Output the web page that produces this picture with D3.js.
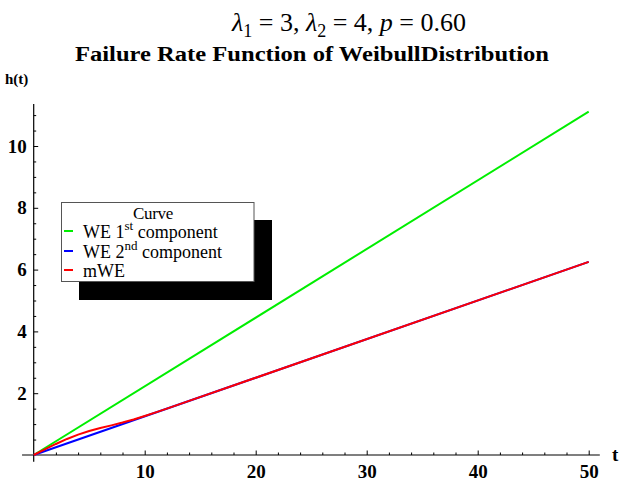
<!DOCTYPE html>
<html>
<head>
<meta charset="utf-8">
<script src="https://cdn.jsdelivr.net/npm/d3@7/dist/d3.min.js"></script>
<style>
  html, body { margin: 0; padding: 0; background: #fff; }
  svg { display: block; }
  text { font-family: "Liberation Serif", "Times New Roman", serif; }
</style>
</head>
<body>
<svg id="chart" width="624" height="483"></svg>
<script>
// Hazard curves h(t) sampled at time points t
const tLine = [0, 50];
const we1 = [0, 11.11];          // WE 1st component
const we2 = [0, 6.25];           // WE 2nd component
const tMix = [0, 1, 2, 3, 4, 5, 6, 7, 8, 9, 10, 11, 12, 14, 50];
const mwe = [0, 0.182, 0.357, 0.519, 0.659, 0.775, 0.871, 0.958, 1.049, 1.150, 1.261, 1.380, 1.502, 1.750, 6.25];

const xMajor = [10, 20, 30, 40, 50];
const yMajor = [2, 4, 6, 8, 10];
const seriesNames = ["WE 1st component", "WE 2nd component", "mWE"];
const seriesColors = ["#00ee00", "#0000ff", "#ff0000"];

const svg = d3.select("#chart");
const serif = '"Liberation Serif", "Times New Roman", serif';

const x = d3.scaleLinear().domain([0, 50]).range([33.7, 588.7]);
const y = d3.scaleLinear().domain([0, 10]).range([455, 146]);

// Titles
const t1 = svg.append("text")
  .attr("x", 349).attr("y", 31)
  .attr("text-anchor", "middle")
  .style("font-family", serif)
  .style("font-size", "26px");
t1.append("tspan").style("font-style", "italic").text("λ");
t1.append("tspan").attr("dy", 6).style("font-size", "18px").text("1");
t1.append("tspan").attr("dy", -6).text(" = 3, ");
t1.append("tspan").style("font-style", "italic").text("λ");
t1.append("tspan").attr("dy", 6).style("font-size", "18px").text("2");
t1.append("tspan").attr("dy", -6).text(" = 4, ");
t1.append("tspan").style("font-style", "italic").text("p");
t1.append("tspan").text(" = 0.60");

svg.append("text")
  .attr("x", 312).attr("y", 61)
  .attr("text-anchor", "middle")
  .style("font-family", serif)
  .style("font-size", "20px").style("font-weight", "bold")
  .attr("textLength", 474).attr("lengthAdjust", "spacingAndGlyphs")
  .text("Failure Rate Function of WeibullDistribution");

// Axis labels
svg.append("text").attr("x", 5).attr("y", 84)
  .style("font-family", serif)
  .style("font-size", "15px").style("font-weight", "bold").text("h(t)");
svg.append("text").attr("x", 612).attr("y", 461)
  .style("font-family", serif)
  .style("font-size", "19px").style("font-weight", "bold").text("t");

// Axis lines (extend slightly past the data range)
svg.append("line")
  .attr("x1", x(-1.05)).attr("x2", x(51.0))
  .attr("y1", y(0)).attr("y2", y(0))
  .attr("stroke", "#000").attr("stroke-width", 1.2);
svg.append("line")
  .attr("x1", x(0)).attr("x2", x(0))
  .attr("y1", y(-0.22)).attr("y2", y(11.36))
  .attr("stroke", "#000").attr("stroke-width", 1.2);

// X ticks
const xMinor = d3.range(2, 51, 2).filter(v => v % 10 !== 0);
const gxMinor = svg.append("g").attr("transform", `translate(0,${y(0)})`)
  .call(d3.axisBottom(x).tickValues(xMinor).tickSize(-2.5).tickFormat(""));
const gx = svg.append("g").attr("transform", `translate(0,${y(0)})`)
  .call(d3.axisBottom(x).tickValues(xMajor).tickSize(-4.5).tickPadding(10).tickFormat(d3.format("d")));

// Y ticks
const yMinor = d3.range(0.5, 11.01, 0.5).filter(v => v % 2 !== 0);
const gyMinor = svg.append("g").attr("transform", `translate(${x(0)},0)`)
  .call(d3.axisLeft(y).tickValues(yMinor).tickSize(-2.5).tickFormat(""));
const gy = svg.append("g").attr("transform", `translate(${x(0)},0)`)
  .call(d3.axisLeft(y).tickValues(yMajor).tickSize(-4.5).tickPadding(7).tickFormat(d3.format("d")));

[gx, gy, gxMinor, gyMinor].forEach(g => {
  g.attr("font-family", serif);
  g.select(".domain").remove();
  g.selectAll(".tick line").attr("stroke", "#000").attr("stroke-width", 1);
  g.selectAll(".tick text")
    .attr("fill", "#000")
    .style("font-family", serif)
    .style("font-size", "19px")
    .style("font-weight", "bold");
});

// Curves
const line = d3.line().x(d => x(d[0])).y(d => y(d[1]));
const series = [
  d3.zip(tLine, we1),
  d3.zip(tLine, we2),
  d3.zip(tMix, mwe)
];
series.forEach((s, i) => {
  svg.append("path")
    .datum(s)
    .attr("d", line)
    .attr("fill", "none")
    .attr("stroke", seriesColors[i])
    .attr("stroke-width", 2);
});

// Legend with drop shadow
const lg = svg.append("g").style("font-family", serif);
lg.append("rect").attr("x", 79).attr("y", 220).attr("width", 193).attr("height", 80).attr("fill", "#000");
lg.append("rect").attr("x", 61.5).attr("y", 202.5).attr("width", 192.5).attr("height", 79)
  .attr("fill", "#fff").attr("stroke", "#555").attr("stroke-width", 1);
lg.append("text").attr("x", 153).attr("y", 219).attr("text-anchor", "middle")
  .style("font-size", "17px").style("letter-spacing", "-0.3px").text("Curve");

const rowY = [238, 258, 277];
const supParts = [["WE 1", "st", " component"], ["WE 2", "nd", " component"], ["mWE"]];
supParts.forEach((parts, i) => {
  lg.append("line")
    .attr("x1", 64).attr("x2", 73)
    .attr("y1", rowY[i] - 7).attr("y2", rowY[i] - 7)
    .attr("stroke", seriesColors[i]).attr("stroke-width", 2);
  const tx = lg.append("text").attr("x", 83).attr("y", rowY[i])
    .style("font-size", "18px");
  tx.append("tspan").text(parts[0]);
  if (parts.length > 1) {
    tx.append("tspan").attr("dy", -8).style("font-size", "13px").text(parts[1]);
    tx.append("tspan").attr("dy", 8).text(parts[2]);
  }
});
</script>
</body>
</html>
